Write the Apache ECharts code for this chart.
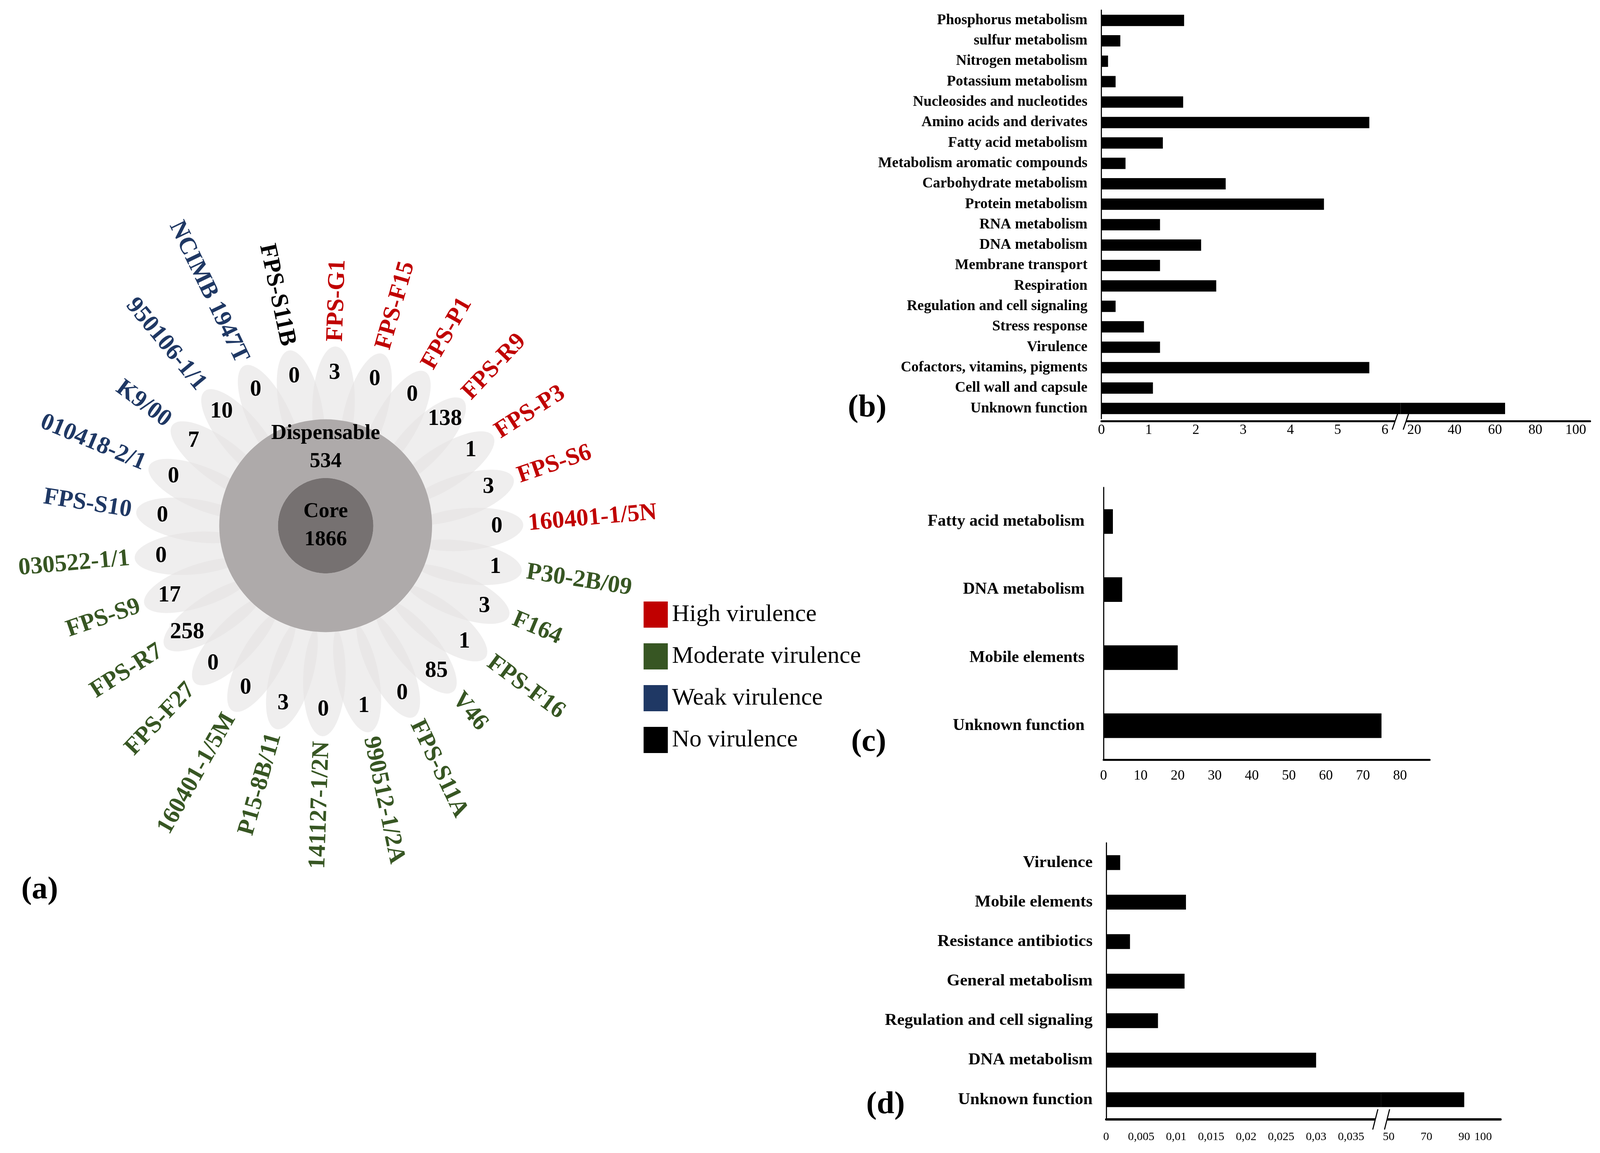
<!DOCTYPE html>
<html><head><meta charset="utf-8">
<script src="https://cdn.jsdelivr.net/npm/echarts@6/dist/echarts.min.js"></script>
<style>html,body{margin:0;padding:0;background:#fff;overflow:hidden}#c{position:absolute;left:0;top:0}</style>
</head><body><div id="c"></div>
<script>
// ---------- DATA ----------
const strains = ['FPS-G1','FPS-F15','FPS-P1','FPS-R9','FPS-P3','FPS-S6','160401-1/5N',
  'P30-2B/09','F164','FPS-F16','V46','FPS-S11A','990512-1/2A','141127-1/2N','P15-8B/11',
  '160401-1/5M','FPS-F27','FPS-R7','FPS-S9','030522-1/1',
  'FPS-S10','010418-2/1','K9/00','950106-1/1','NCIMB 1947T','FPS-S11B'];
const uniqueGenes = [3,0,0,138,1,3,0, 1,3,1,85,0,1,0,3,0,0,258,17,0, 0,0,7,10,0, 0];
const strainClass = [0,0,0,0,0,0,0, 1,1,1,1,1,1,1,1,1,1,1,1,1, 2,2,2,2,2, 3];
const classNames = ['High virulence','Moderate virulence','Weak virulence','No virulence'];
const classColors = ['#C00000','#375623','#1F3864','#000000'];
const panNames = ['Dispensable','Core'];
const panValues = [534, 1866];

const bCategories = ['Phosphorus metabolism','sulfur metabolism','Nitrogen metabolism','Potassium metabolism',
  'Nucleosides and nucleotides','Amino acids and derivates','Fatty acid metabolism','Metabolism aromatic compounds',
  'Carbohydrate metabolism','Protein metabolism','RNA metabolism','DNA metabolism','Membrane transport',
  'Respiration','Regulation and cell signaling','Stress response','Virulence','Cofactors, vitamins, pigments',
  'Cell wall and capsule','Unknown function'];
const bValues = [1.75,0.40,0.14,0.30,1.73,5.67,1.30,0.51,2.63,4.71,1.24,2.11,1.24,2.43,0.30,0.90,1.24,5.67,1.09,65];
const bTicksLow = [0,1,2,3,4,5,6];
const bTicksHigh = [20,40,60,80,100];

const cCategories = ['Fatty acid metabolism','DNA metabolism','Mobile elements','Unknown function'];
const cValues = [2.5,5,20,75];
const cTicks = [0,10,20,30,40,50,60,70,80];

const dCategories = ['Virulence','Mobile elements','Resistance antibiotics','General metabolism',
  'Regulation and cell signaling','DNA metabolism','Unknown function'];
const dValues = [0.002,0.0114,0.0034,0.0112,0.0074,0.030,90];
const dTicksLow = [0,0.005,0.01,0.015,0.02,0.025,0.03,0.035];
const dTicksHigh = [50,70,90,100];

// ---------- SIZE (design units = 4358 x 2952, fitted to the real viewport) ----------
const VW = window.innerWidth || 4358, VH = window.innerHeight || 2952;
const SX = VW / 4358, SY = VH / 2952, SR = Math.sqrt(SX * SY);
const ux = v => v * SX, uy = v => v * SY, ur = v => v * SR;
const el = document.getElementById('c');
el.style.width = VW + 'px';
el.style.height = VH + 'px';

const FF = '"Liberation Serif","Times New Roman",serif';
const font = (w, px) => w + ' ' + ux(px) + 'px ' + FF;
const PETAL_C = 360, PETAL_A = 155, PETAL_B = 56, NUM_R = 445, LABEL_R = 528;

const chart = echarts.init(el);

function petalItem(params, api) {
  const idx = api.value(1);
  const cs = params.coordSys;
  const pc = api.coord([PETAL_C, idx]);
  const pn = api.coord([NUM_R, idx]);
  const ang = Math.atan2(-(pc[1] - cs.cy), pc[0] - cs.cx);
  return {type: 'group', children: [
    {type: 'circle', x: pc[0], y: pc[1], rotation: ang, scaleX: ur(PETAL_A), scaleY: ur(PETAL_B),
     shape: {cx: 0, cy: 0, r: 1}, style: {fill: 'rgba(228,227,227,0.6)'}, z2: 0},
    {type: 'text', x: pn[0], y: pn[1], z2: 10,
     style: {text: String(api.value(0)), fill: '#000', font: font('bold', 62), align: 'center', verticalAlign: 'middle'}}
  ]};
}
function labelRenderer(color) {
  return function (params, api) {
    const idx = api.value(1);
    const cs = params.coordSys;
    const p = api.coord([LABEL_R, idx]);
    const dx = p[0] - cs.cx, dy = p[1] - cs.cy;
    const ang = Math.atan2(-dy, dx);
    const right = dx > 0.5 || (Math.abs(dx) <= 0.5 && dy < 0);
    return {type: 'text', x: p[0], y: p[1], rotation: right ? ang : ang - Math.PI,
      style: {text: strains[idx], fill: color, font: font('bold', 66),
              align: right ? 'left' : 'right', verticalAlign: 'middle'}};
  };
}
function breakSeries(xi, yi, axisOffset, half, dxs, hh) {
  return {type: 'custom', xAxisIndex: xi, yAxisIndex: yi, silent: true, z: 5, data: [[0, 0]],
    renderItem: function (params) {
      const cs = params.coordSys;
      const x0 = cs.x, y0 = cs.y + cs.height + uy(axisOffset);
      return {type: 'group', children: [
        {type: 'rect', shape: {x: x0 - ux(half), y: y0 - uy(6), width: ux(half * 2), height: uy(12)}, style: {fill: '#fff'}},
        {type: 'line', shape: {x1: x0 - ux(half + dxs), y1: y0 + uy(hh), x2: x0 - ux(half - dxs), y2: y0 - uy(hh)}, style: {stroke: '#000', lineWidth: ux(3)}},
        {type: 'line', shape: {x1: x0 + ux(half - dxs), y1: y0 + uy(hh), x2: x0 + ux(half + dxs), y2: y0 - uy(hh)}, style: {stroke: '#000', lineWidth: ux(3)}}
      ]};
    }};
}
function xAx(grid, min, max, ticks, fontSize, margin, lw, offset, fmt) {
  return {type: 'value', gridIndex: grid, min: min, max: max, offset: uy(offset || 0),
    axisLine: {show: true, lineStyle: {color: '#000', width: uy(lw)}},
    axisTick: {show: false}, splitLine: {show: false},
    axisLabel: {customValues: ticks, color: '#000', fontFamily: FF, fontSize: ux(fontSize), margin: uy(margin),
      formatter: fmt || function (v) { return String(v); }}};
}
function yAx(grid, cats, show, fontSize, margin) {
  return {type: 'category', gridIndex: grid, data: cats, inverse: true, show: show,
    axisLine: {show: true, lineStyle: {color: '#000', width: ux(3)}},
    axisTick: {show: false}, splitLine: {show: false},
    axisLabel: {interval: 0, color: '#000', fontFamily: FF, fontWeight: 'bold', fontSize: ux(fontSize), margin: ux(margin)}};
}
function bar(xi, yi, data, w) {
  return {type: 'bar', xAxisIndex: xi, yAxisIndex: yi, data: data, barWidth: uy(w), silent: true,
    itemStyle: {color: '#000'}, clip: true};
}
function grid(l, t, w, h) {
  return {left: ux(l), top: uy(t), width: ux(w), height: uy(h), outerBoundsMode: 'none'};
}
function panelLabel(txt, x, y) {
  return {type: 'text', x: ux(x), y: uy(y), style: {text: txt, font: font('bold', 86), fill: '#000', align: 'center', verticalAlign: 'middle'}};
}

const series = [];
series.push({type: 'custom', coordinateSystem: 'polar', name: 'petals', silent: true,
  data: strains.map((s, i) => [uniqueGenes[i], s]), renderItem: petalItem});
classNames.forEach((cn, k) => {
  series.push({type: 'custom', coordinateSystem: 'polar', name: cn, silent: true,
    itemStyle: {color: classColors[k]},
    data: strains.map((s, i) => [uniqueGenes[i], s]).filter((d, i) => strainClass[i] === k),
    renderItem: labelRenderer(classColors[k])});
});
const panLabel = {color: '#000', fontFamily: FF, fontWeight: 'bold', fontSize: ux(58), lineHeight: uy(72), formatter: '{b}\n{c}'};
series.push({type: 'pie', center: [ux(887), uy(1346)], radius: [ur(126), ur(281)], startAngle: 270, silent: true,
  avoidLabelOverlap: false, labelLine: {show: false}, emphasis: {disabled: true},
  label: Object.assign({position: 'inside', padding: [uy(30), 0, 0, 0]}, panLabel),
  data: [{name: panNames[0], value: panValues[0], itemStyle: {color: '#AEAAAA'}}]});
series.push({type: 'pie', center: [ux(887), uy(1346)], radius: [0, ur(126)], silent: true,
  avoidLabelOverlap: false, labelLine: {show: false}, emphasis: {disabled: true},
  label: Object.assign({position: 'center'}, panLabel),
  data: [{name: panNames[1], value: panValues[1], itemStyle: {color: '#767171'}}]});

series.push(bar(0, 0, bValues, 29));
series.push(bar(1, 1, bValues, 29));
series.push(breakSeries(1, 1, 6, 15, 8, 22));
series.push(bar(2, 2, cValues, 63));
series.push(bar(3, 3, dValues, 38));
series.push(bar(4, 4, dValues, 38));
series.push(breakSeries(4, 4, 0, 16, 7, 26));

const commaFmt = function (v) { return String(v).replace('.', ','); };

const option = {
  backgroundColor: '#fff',
  animation: false,
  polar: {center: [ux(896), uy(1386)], radius: ur(1000)},
  radiusAxis: {type: 'value', min: 0, max: 1000, show: false},
  angleAxis: {type: 'category', data: strains, startAngle: 95, clockwise: true, show: false},
  legend: {data: classNames, orient: 'vertical', left: ux(1753), top: uy(1540), padding: 0,
    icon: 'rect', itemWidth: ux(66), itemHeight: uy(67), itemGap: uy(40), selectedMode: false,
    textStyle: {color: '#000', fontFamily: FF, fontSize: ux(66), padding: [0, 0, 0, ux(6)]}},
  grid: [
    grid(3000, 26, 815, 1046),
    grid(3815, 26, 516, 1046),
    grid(3006, 1248, 888, 697),
    grid(3013, 2158, 749, 708),
    grid(3762, 2158, 325, 708)
  ],
  xAxis: [
    xAx(0, 0, 6.333, bTicksLow, 38, 6, 5, 6),
    xAx(1, 13.27, 107.1, bTicksHigh, 38, 6, 5, 6),
    xAx(2, 0, 88, cTicks, 38, 24, 5, 0),
    xAx(3, 0, 0.0393, dTicksLow, 32, 30, 6, 0, commaFmt),
    xAx(4, 46.04, 109.2, dTicksHigh, 32, 30, 6, 0)
  ],
  yAxis: [
    yAx(0, bCategories, true, 40, 38),
    yAx(1, bCategories, false, 40, 38),
    yAx(2, cCategories, true, 45, 52),
    yAx(3, dCategories, true, 46, 37),
    yAx(4, dCategories, false, 46, 37)
  ],
  graphic: [
    panelLabel('(a)', 108, 2279),
    panelLabel('(b)', 2362, 1045),
    panelLabel('(c)', 2366, 1901),
    panelLabel('(d)', 2412, 2829)
  ],
  series: series
};
chart.setOption(option);
</script></body></html>
